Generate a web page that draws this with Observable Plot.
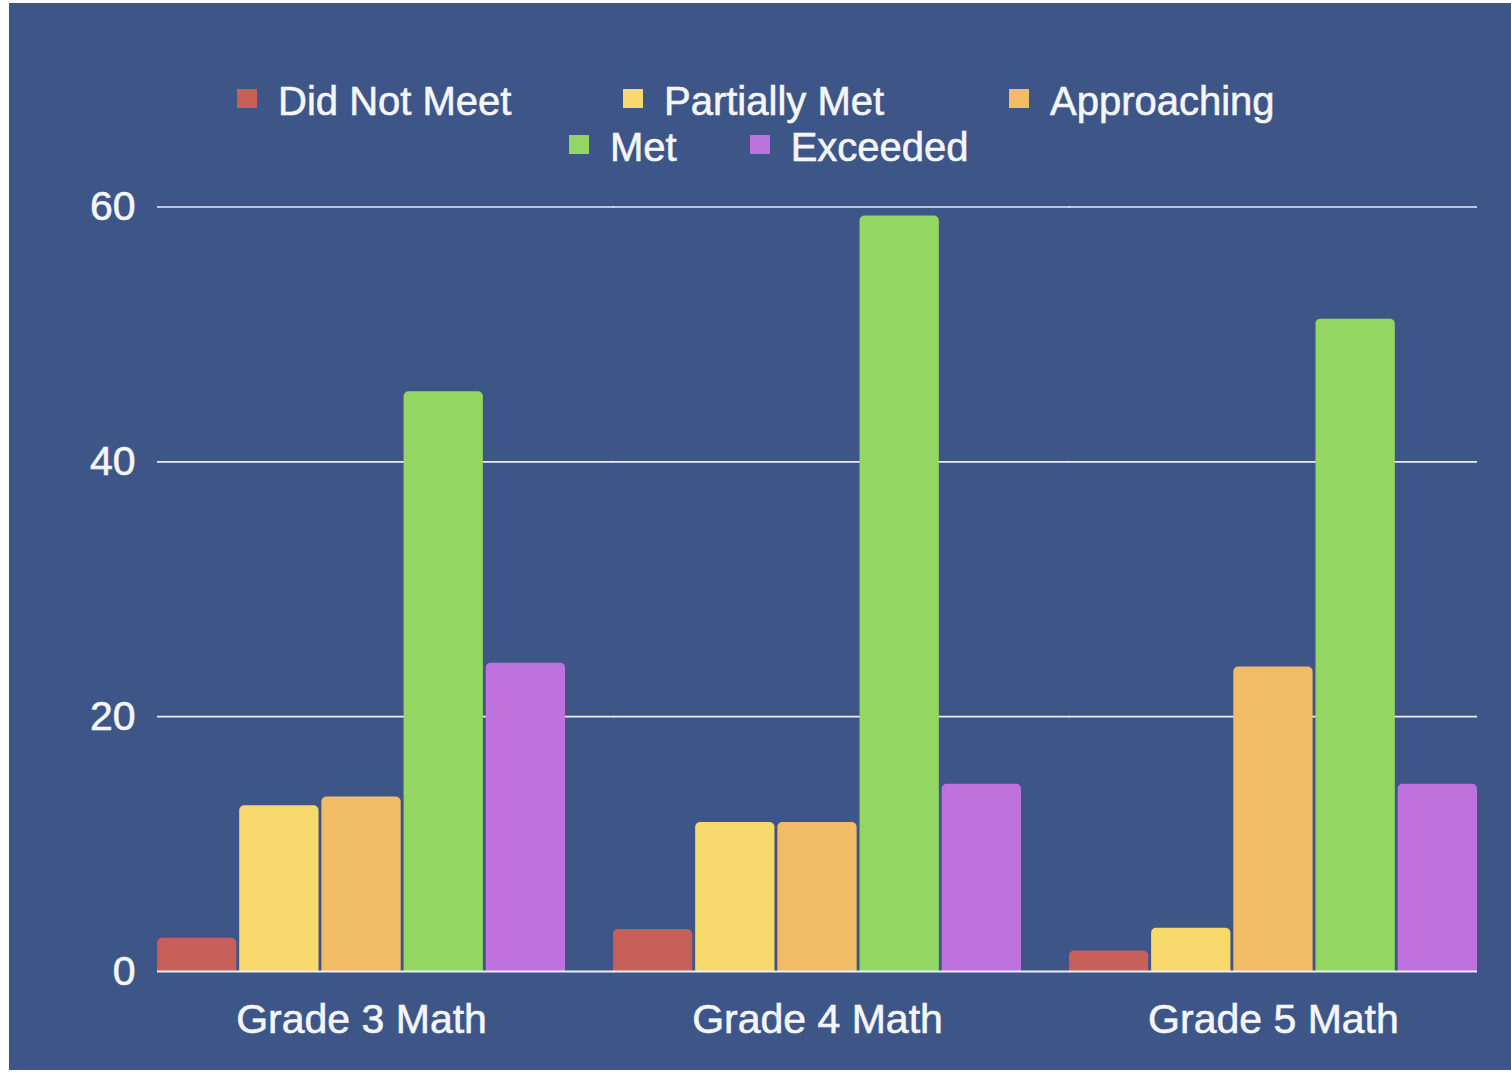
<!DOCTYPE html>
<html>
<head>
<meta charset="utf-8">
<script src="https://cdn.jsdelivr.net/npm/d3@7"></script>
<script src="https://cdn.jsdelivr.net/npm/@observablehq/plot@0.6"></script>
<style>
  html, body { margin: 0; padding: 0; background: #ffffff; }
  body { width: 1511px; height: 1073px; position: relative; overflow: hidden; font-family: "Liberation Sans", Arial, sans-serif; }
  #panel { position: absolute; left: 9px; top: 3px; width: 1502px; height: 1067px; background: #3d5687; }
  .row { position: absolute; display: flex; align-items: center; height: 40px; color: #f4f6fb; font-size: 40px; line-height: 40px; white-space: nowrap; -webkit-text-stroke: 0.6px #f4f6fb; }
  .item { display: flex; align-items: center; }
  .sw { width: 20px; height: 19px; margin-right: 21px; position: relative; top: -3px; }
  #chart { position: absolute; left: 0; top: 167px; }
  #chart text { stroke: #f4f6fb; stroke-width: 0.6px; }
</style>
</head>
<body>
<div id="panel">
  <div class="row" id="row1" style="left:228px; top:78px;"></div>
  <div class="row" id="row2" style="left:560px; top:124px;"></div>
  <div id="chart"></div>
</div>
<script>
const groups = ["Grade 3 Math", "Grade 4 Math", "Grade 5 Math"];
const series = ["Did Not Meet", "Partially Met", "Approaching", "Met", "Exceeded"];
const colors = ["#c8605a", "#f8d96b", "#f2bc66", "#93d662", "#bd72de"];
const didNotMeet   = [2.6, 3.3, 1.6];
const partiallyMet = [13.0, 11.7, 3.4];
const approaching  = [13.7, 11.7, 23.9];
const met          = [45.5, 59.3, 51.2];
const exceeded     = [24.2, 14.7, 14.7];
const yTicks = [0, 20, 40, 60];

const valuesBySeries = [didNotMeet, partiallyMet, approaching, met, exceeded];
const data = groups.flatMap((g, i) => series.map((s, j) => ({group: g, series: s, value: valuesBySeries[j][i]})));

// legend
const row1 = document.getElementById("row1");
const row2 = document.getElementById("row2");
series.forEach((s, j) => {
  const item = document.createElement("div");
  item.className = "item";
  if (j < 2) item.style.width = "386px";
  if (j === 3) item.style.marginRight = "73px";
  const sw = document.createElement("div");
  sw.className = "sw";
  sw.style.background = colors[j];
  const t = document.createElement("span");
  t.textContent = s;
  item.appendChild(sw);
  item.appendChild(t);
  (j < 3 ? row1 : row2).appendChild(item);
});

const W = 1502, H = 900, mL = 148, mR = 34, mT = 36.5, mB = 99;
const fxPad = 0.105;
const innerW = W - mL - mR;
const step = innerW / (groups.length - fxPad);
const gapPx = step * fxPad;

const gridLines = groups.flatMap(g => yTicks.filter(v => v > 0).map(v => ({group: g, v})));
const baseLines = groups.map(g => ({group: g, v: 0}));
const last = groups[groups.length - 1];
const gridStroke = "#e9eef7";

const chart = Plot.plot({
  width: W, height: H,
  marginLeft: mL, marginRight: mR, marginTop: mT, marginBottom: mB,
  style: {background: "transparent", color: "#f4f6fb", fontFamily: "'Liberation Sans', Arial, sans-serif", fontSize: "41px", overflow: "visible"},
  fx: {domain: groups, paddingInner: fxPad, paddingOuter: 0, round: false, label: null, axis: "bottom", tickSize: 0, tickPadding: 32},
  x: {domain: series, paddingInner: 0.035, paddingOuter: 0, round: false, axis: null},
  y: {domain: [0, 60], ticks: yTicks, tickSize: 0, tickPadding: 22, label: null},
  color: {domain: series, range: colors},
  marks: [
    Plot.ruleY(gridLines.filter(d => d.group !== last), {fx: "group", y: "v", stroke: gridStroke, strokeWidth: 1.6, insetRight: -gapPx - 1}),
    Plot.ruleY(gridLines.filter(d => d.group === last), {fx: "group", y: "v", stroke: gridStroke, strokeWidth: 1.6}),
    Plot.barY(data, {fx: "group", x: "series", y: "value", fill: "series", rx: 5, insetBottom: -8, clip: true}),
    Plot.ruleY(baseLines.filter(d => d.group !== last), {fx: "group", y: "v", stroke: gridStroke, strokeWidth: 2, insetRight: -gapPx - 1}),
    Plot.ruleY(baseLines.filter(d => d.group === last), {fx: "group", y: "v", stroke: gridStroke, strokeWidth: 2})
  ]
});
document.getElementById("chart").appendChild(chart);
</script>
</body>
</html>
